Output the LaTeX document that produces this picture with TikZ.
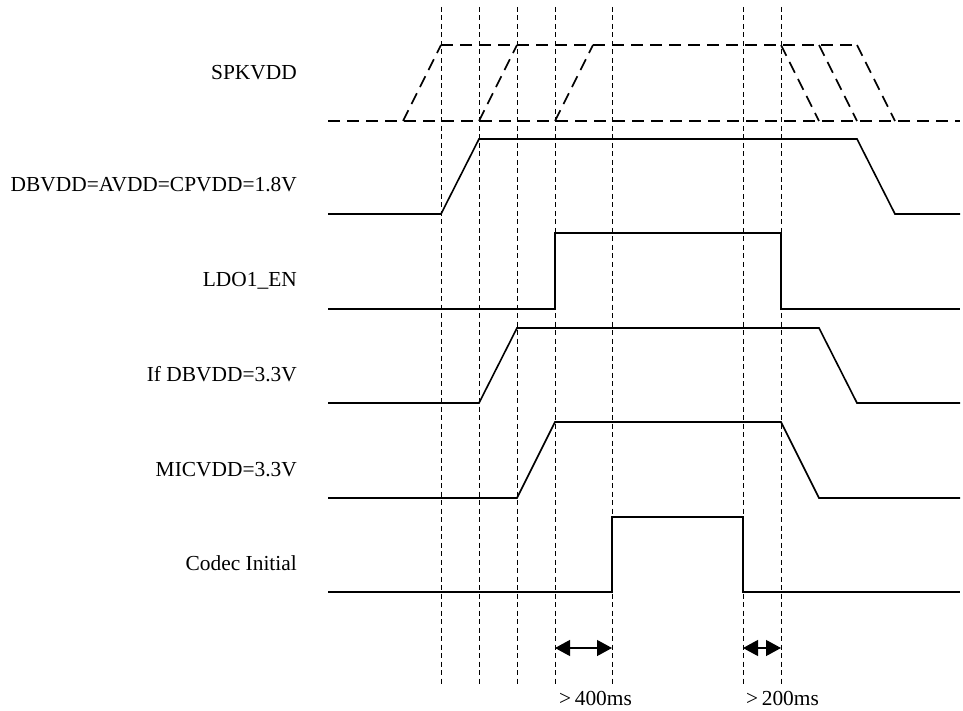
\documentclass[tikz,border=0pt]{standalone}
\usepackage{fontspec}
\setmainfont{Liberation Serif}
\usetikzlibrary{arrows.meta}
\begin{document}
\begin{tikzpicture}[x=1pt,y=-1pt,
  guide/.style={line width=0.8pt, dash pattern=on 5pt off 3.5pt},
  wave/.style={line width=1.6pt, line join=miter},
  dwave/.style={line width=1.6pt, dash pattern=on 12pt off 7pt},
  lbl/.style={anchor=base east, inner sep=0pt, font=\fontsize{21.4}{25}\selectfont},
  tlbl/.style={anchor=base west, inner sep=0pt, font=\fontsize{21.4}{25}\selectfont},
  dim/.style={line width=1.2pt, {Triangle[length=15pt,width=16pt]}-{Triangle[length=15pt,width=16pt]}}
]
\useasboundingbox (0,0) rectangle (963,711);

% guide lines
\foreach \x [count=\i] in {441,479,517,555,612,743,781}{
  \coordinate (g\i t) at (\x,7);
  \coordinate (g\i b) at (\x,684);
  \draw[guide] (g\i t) -- (g\i b);
}

% labels
\node[lbl] (spk) at (297,80) {SPKVDD};
\node[lbl] (dbv) at (297,192) {DBVDD=AVDD=CPVDD=1.8V};
\node[lbl] (ldo) at (297,287) {LDO1\_EN};
\node[lbl] (ifd) at (297,381) {If DBVDD=3.3V};
\node[lbl] (mic) at (297,476) {MICVDD=3.3V};
\node[lbl] (cod) at (297,570) {Codec Initial};

% SPKVDD (dashed)
\draw[dwave] (328,121) -- (960,121);
\draw[dwave] (441,45) -- (857,45);
\draw[dwave] (403,121) -- (441,45);
\draw[dwave] (479,121) -- (517,45);
\draw[dwave] (555,121) -- (593,45);
\draw[dwave] (781,45) -- (819,121);
\draw[dwave] (819,45) -- (857,121);
\draw[dwave] (857,45) -- (895,121);

% DBVDD
\draw[wave] (328,214) -- (441,214) -- (479,139) -- (857,139) -- (895,214) -- (960,214);
% LDO1_EN
\draw[wave] (328,309) -- (555,309) -- (555,233) -- (781,233) -- (781,309) -- (960,309);
% If DBVDD
\draw[wave] (328,403) -- (479,403) -- (517,328) -- (819,328) -- (857,403) -- (960,403);
% MICVDD
\draw[wave] (328,498) -- (517,498) -- (555,422) -- (781,422) -- (819,498) -- (960,498);
% Codec Initial
\draw[wave] (328,592) -- (612,592) -- (612,517) -- (743,517) -- (743,592) -- (960,592);

% timing arrows
\coordinate (a1) at (555,648);
\coordinate (a2) at (612,648);
\coordinate (a3) at (743,648);
\coordinate (a4) at (781,648);
\draw[dim] (a1) -- (a2);
\draw[dim] (a3) -- (a4);
\node[tlbl] (t400) at (559,705) {>\,400ms};
\node[tlbl] (t200) at (746,705) {>\,200ms};
\end{tikzpicture}
\end{document}
